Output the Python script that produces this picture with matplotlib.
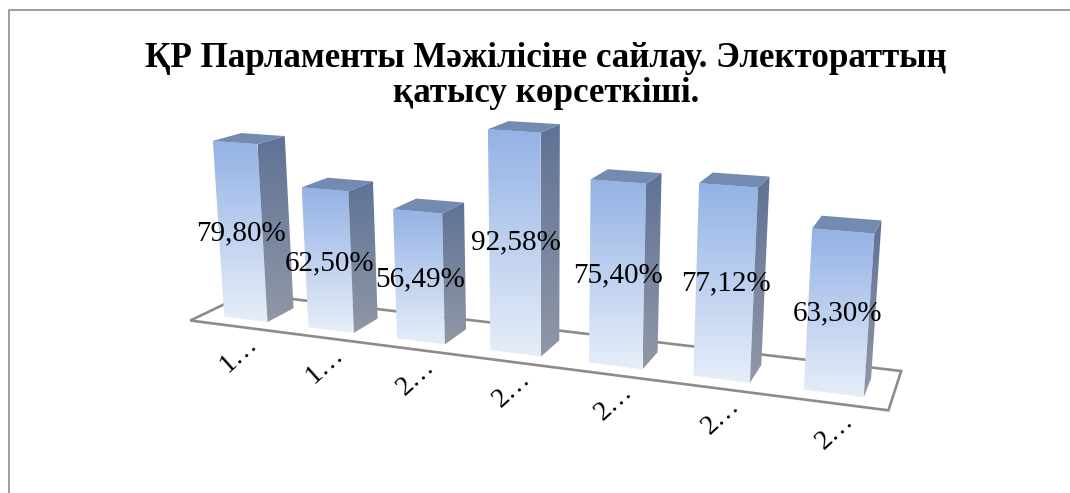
import numpy as np
import matplotlib
matplotlib.use('Agg')
import matplotlib.pyplot as plt
from matplotlib.colors import LinearSegmentedColormap
from matplotlib.patches import Polygon

title = 'ҚР Парламенты Мәжілісіне сайлау. Электораттың\nқатысу көрсеткіші.'
tick_labels = ['1…', '1…', '2…', '2…', '2…', '2…', '2…']
values = [79.80, 62.50, 56.49, 92.58, 75.40, 77.12, 63.30]
value_labels = ['79,80%', '62,50%', '56,49%', '92,58%', '75,40%', '77,12%', '63,30%']

# Камера: (категория, глубина, значение) -> пиксели
CAMERA = np.array([
    [76.37406679, 35.64108100, -0.23426554, 224.30813415],
    [2.38407164, -3.10659617, -2.26140311, 316.57019852],
    [-0.02513247, 0.03392782, -0.00042862, 1.0],
])
BAR_W = 0.52
FLOOR_U = (-0.25, 6.755)
FLOOR_D = (-0.47, 1.57)

FRONT = LinearSegmentedColormap.from_list('front', ['#94b2e5', '#e7eef9'])
SIDE = LinearSegmentedColormap.from_list('side', ['#5f7296', '#9198a6'])
TOP_COLOR = '#738ab1'
LINE_COLOR = '#8c8c8c'


def project(u, d, v):
    x, y, w = CAMERA @ np.array([u, d, v, 1.0])
    return x / w, y / w


def gradient_face(ax, pts, cmap):
    # Заливка грани вертикальным градиентом по её контуру
    pts = np.array(pts)
    x0, x1 = pts[:, 0].min(), pts[:, 0].max()
    y0, y1 = pts[:, 1].min(), pts[:, 1].max()
    grad = np.linspace(0, 1, 256).reshape(-1, 1)
    im = ax.imshow(grad, cmap=cmap, extent=(x0, x1, y1, y0), aspect='auto',
                   interpolation='bilinear', zorder=3)
    im.set_clip_path(Polygon(pts, closed=True, transform=ax.transData))


plt.rcParams['font.family'] = ['Liberation Serif', 'DejaVu Serif']

fig = plt.figure(figsize=(10.7, 4.93), dpi=100)
ax = fig.add_axes([0, 0, 1, 1])

# Рамка диаграммы
ax.plot([9, 9, 1070], [493, 10, 10], color=LINE_COLOR, lw=1.2, zorder=1)

# Пол
floor = [project(FLOOR_U[0], FLOOR_D[0], 0), project(FLOOR_U[1], FLOOR_D[0], 0),
         project(FLOOR_U[1], FLOOR_D[1], 0), project(FLOOR_U[0], FLOOR_D[1], 0)]
ax.add_patch(Polygon(floor, closed=True, fill=False, edgecolor=LINE_COLOR, lw=1.9, zorder=2))

for i, val in enumerate(values):
    u0, u1 = i, i + BAR_W
    front = [project(u0, 0, val), project(u1, 0, val), project(u1, 0, 0), project(u0, 0, 0)]
    side = [project(u1, 0, val), project(u1, 1, val), project(u1, 1, 0), project(u1, 0, 0)]
    top = [project(u0, 0, val), project(u1, 0, val), project(u1, 1, val), project(u0, 1, val)]
    gradient_face(ax, front, FRONT)
    gradient_face(ax, side, SIDE)
    ax.add_patch(Polygon(top, closed=True, facecolor=TOP_COLOR, edgecolor='none', zorder=3))

    # Подпись значения
    lx = project(u1, 1, val)[0]
    ly = project(u1, 1, 0.56 * val - 4.8)[1]
    ax.text(lx + 1, ly + 10, value_labels[i], ha='right', va='center', fontsize=21,
            color='black', zorder=5)

    # Подпись категории
    tx, ty = project(i + BAR_W / 2, FLOOR_D[0], 0)
    ax.text(tx + 13, ty + 5, tick_labels[i], ha='right', va='top', rotation=42,
            rotation_mode='anchor', fontsize=20, color='black', zorder=5)

ax.text(546, 76, title, ha='center', va='center', fontsize=25.2, fontweight='bold',
        linespacing=1.1, color='black', zorder=5)

ax.set_xlim(0, 1070)
ax.set_ylim(493, 0)
ax.axis('off')

fig.savefig('out.png', dpi=100, facecolor='white')
